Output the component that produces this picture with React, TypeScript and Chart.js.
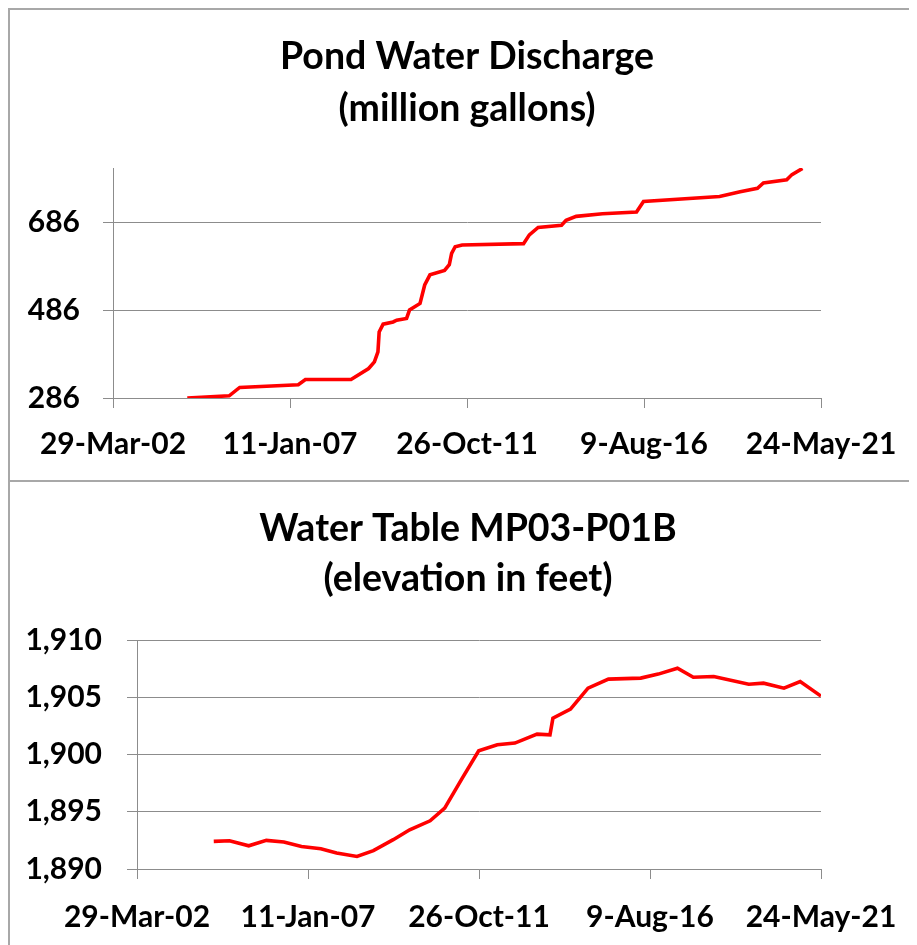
import React, { useEffect, useRef } from "react";
import { Chart, registerables } from "chart.js";

Chart.register(...registerables);

// ---------- shared x-axis (dates) ----------
const xTickDates = ["2002-03-29", "2007-01-11", "2011-10-26", "2016-08-09", "2021-05-24"];
const xTickLabels = ["29-Mar-02", "11-Jan-07", "26-Oct-11", "9-Aug-16", "24-May-21"];

// ---------- Pond Water Discharge (million gallons) ----------
const pondTitle = ["Pond Water Discharge", "(million gallons)"];
const pondDates = [
  "2004-04-01", "2005-05-20", "2005-09-01", "2007-04-03", "2007-06-12", "2008-09-05",
  "2009-02-26", "2009-04-24", "2009-05-29", "2009-06-10", "2009-07-19", "2009-10-26",
  "2009-11-30", "2010-03-08", "2010-04-06", "2010-07-19", "2010-09-03", "2010-10-25",
  "2011-03-18", "2011-05-04", "2011-05-27", "2011-07-01", "2011-09-08", "2013-05-07",
  "2013-07-03", "2013-09-28", "2014-05-17", "2014-07-01", "2014-10-09", "2015-06-26",
  "2016-05-27", "2016-08-04", "2018-08-26", "2019-03-17", "2019-09-04", "2019-11-02",
  "2020-06-19", "2020-08-10", "2020-11-22",
];
const pondValues = [
  286, 291, 310, 316, 328, 328,
  353, 368, 391, 436, 454, 459,
  463, 467, 486, 501, 543, 566,
  576, 589, 615, 630, 634, 637,
  657, 674, 679, 690, 699, 705,
  709, 733, 744, 755, 763, 775,
  782, 794, 808,
];
const pondYTicks = [286, 486, 686];
const pondYMin = 286;
const pondYMax = 809;

// ---------- Water Table MP03-P01B (elevation in feet) ----------
const wellTitle = ["Water Table MP03-P01B", "(elevation in feet)"];
const wellDates = [
  "2004-05-22", "2004-10-30", "2005-05-15", "2005-11-11", "2006-05-09", "2006-11-05",
  "2007-05-22", "2007-10-30", "2008-05-26", "2008-11-10", "2009-06-01", "2009-11-16",
  "2010-06-13", "2010-11-09", "2011-05-08", "2011-10-23", "2012-04-30", "2012-10-27",
  "2013-06-11", "2013-10-21", "2013-11-20", "2014-05-19", "2014-11-14", "2015-06-11",
  "2016-05-06", "2016-11-01", "2017-05-17", "2017-10-26", "2018-05-23", "2019-05-16",
  "2019-10-14", "2020-05-10", "2020-10-23", "2021-05-24",
];
const wellValues = [
  1892.41, 1892.47, 1892.03, 1892.5, 1892.36, 1891.97,
  1891.77, 1891.4, 1891.1, 1891.6, 1892.56, 1893.43,
  1894.21, 1895.32, 1897.94, 1900.32, 1900.85, 1901.0,
  1901.78, 1901.72, 1903.18, 1903.96, 1905.79, 1906.58,
  1906.67, 1907.02, 1907.54, 1906.75, 1906.81, 1906.14,
  1906.23, 1905.79, 1906.37, 1905.1,
];
const wellYTicks = [1890, 1895, 1900, 1905, 1910];
const wellYMin = 1890;
const wellYMax = 1910;

// ---------- helpers ----------
const toSerial = (s: string) => {
  const [y, m, d] = s.split("-").map(Number);
  return Date.UTC(y, m - 1, d) / 86400000 + 25569;
};
const xTickSerials = xTickDates.map(toSerial);

const FONT = "Lato, 'Open Sans', sans-serif";
const GRID = "#8c8c8c";
const BORDER = "#a8a8a8";

type Layout = {
  width: number;
  height: number;
  titleX: number;
  titleY: number[];
  titleSize: number;
  padTop: number;
  yAxisWidth: number;
  yLabelPad: number;
  xAxisHeight: number;
  xLabelPad: number;
  padRight: number;
  padBottom: number;
};

function LineChart(props: {
  title: string[];
  dates: string[];
  values: number[];
  yTicks: number[];
  yMin: number;
  yMax: number;
  layout: Layout;
}) {
  const ref = useRef<HTMLCanvasElement | null>(null);
  const { title, dates, values, yTicks, yMin, yMax, layout } = props;

  useEffect(() => {
    if (!ref.current) return;
    const data = dates.map((d, i) => ({ x: toSerial(d), y: values[i] }));
    const titlePlugin = {
      id: "twoLineTitle",
      afterDraw(chart: any) {
        const ctx = chart.ctx;
        ctx.save();
        ctx.font = `bold ${layout.titleSize}px ${FONT}`;
        ctx.fillStyle = "#000";
        ctx.textAlign = "center";
        ctx.textBaseline = "alphabetic";
        title.forEach((t, i) => ctx.fillText(t, layout.titleX, layout.titleY[i]));
        ctx.restore();
      },
    };
    const chart = new Chart(ref.current, {
      type: "line",
      data: {
        datasets: [
          {
            data,
            borderColor: "#ff0000",
            borderWidth: 3.6,
            pointRadius: 0,
            tension: 0,
            fill: false,
          },
        ],
      },
      plugins: [titlePlugin],
      options: {
        animation: false,
        responsive: false,
        layout: {
          padding: { left: 0, right: layout.padRight, top: layout.padTop, bottom: layout.padBottom },
        },
        plugins: {
          legend: { display: false },
          tooltip: { enabled: false },
          title: { display: false },
        },
        scales: {
          x: {
            type: "linear",
            min: xTickSerials[0],
            max: xTickSerials[xTickSerials.length - 1],
            afterBuildTicks: (s: any) => {
              s.ticks = xTickSerials.map((v) => ({ value: v }));
            },
            afterFit: (s: any) => {
              s.height = layout.xAxisHeight;
            },
            ticks: {
              autoSkip: false,
              maxRotation: 0,
              padding: layout.xLabelPad,
              color: "#000",
              font: { family: FONT, size: 30, weight: "bold" },
              callback: (_v: any, i: number) => xTickLabels[i],
            },
            grid: {
              drawOnChartArea: false,
              drawTicks: true,
              tickLength: 10,
              color: GRID,
              lineWidth: 1,
            },
            border: { display: true, color: GRID, width: 1 },
          },
          y: {
            type: "linear",
            min: yMin,
            max: yMax,
            afterBuildTicks: (s: any) => {
              s.ticks = yTicks.map((v) => ({ value: v }));
            },
            afterFit: (s: any) => {
              s.width = layout.yAxisWidth;
            },
            ticks: {
              padding: layout.yLabelPad,
              color: "#000",
              font: { family: FONT, size: 30, weight: "bold" },
              callback: (v: any) => Number(v).toLocaleString("en-US"),
            },
            grid: {
              drawOnChartArea: true,
              drawTicks: true,
              tickLength: 10,
              color: GRID,
              lineWidth: 1,
            },
            border: { display: true, color: GRID, width: 1 },
          },
        },
      },
    });
    return () => chart.destroy();
  }, []);

  return (
    <canvas
      ref={ref}
      width={layout.width}
      height={layout.height}
      style={{ display: "block", width: layout.width, height: layout.height }}
    />
  );
}

export default function App() {
  const topLayout: Layout = {
    width: 907,
    height: 470,
    titleX: 457,
    titleY: [59, 111],
    titleSize: 37.5,
    padTop: 158,
    yAxisWidth: 103,
    yLabelPad: 23,
    xAxisHeight: 70,
    xLabelPad: 18,
    padRight: 96,
    padBottom: 12,
  };
  const bottomLayout: Layout = {
    width: 907,
    height: 463,
    titleX: 458,
    titleY: [59, 109],
    titleSize: 37.5,
    padTop: 158,
    yAxisWidth: 127,
    yLabelPad: 25,
    xAxisHeight: 70,
    xLabelPad: 20,
    padRight: 96,
    padBottom: 6,
  };
  return (
    <div style={{ width: 909, background: "#fff" }}>
      <div style={{ borderTop: `2px solid ${BORDER}`, borderLeft: `2px solid ${BORDER}`, height: 470 }}>
        <LineChart
          title={pondTitle}
          dates={pondDates}
          values={pondValues}
          yTicks={pondYTicks}
          yMin={pondYMin}
          yMax={pondYMax}
          layout={topLayout}
        />
      </div>
      <div style={{ borderTop: `2px solid ${BORDER}`, borderLeft: `2px solid ${BORDER}`, height: 463 }}>
        <LineChart
          title={wellTitle}
          dates={wellDates}
          values={wellValues}
          yTicks={wellYTicks}
          yMin={wellYMin}
          yMax={wellYMax}
          layout={bottomLayout}
        />
      </div>
    </div>
  );
}
